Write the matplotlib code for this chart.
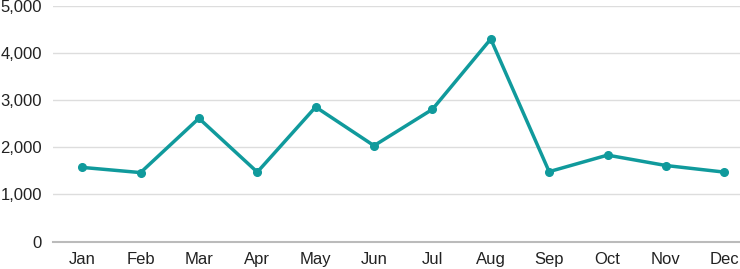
import matplotlib.pyplot as plt
from matplotlib.ticker import FuncFormatter

# Data
months = ['Jan', 'Feb', 'Mar', 'Apr', 'May', 'Jun',
          'Jul', 'Aug', 'Sep', 'Oct', 'Nov', 'Dec']
values = [1570, 1460, 2610, 1470, 2850, 2030,
          2800, 4290, 1480, 1830, 1610, 1470]
y_ticks = [0, 1000, 2000, 3000, 4000, 5000]

plt.rcParams['font.family'] = ['Liberation Sans', 'DejaVu Sans']

fig = plt.figure(figsize=(7.4, 2.69), dpi=100)
ax = fig.add_axes([53 / 740, 27.5 / 269, 687 / 740, 236 / 269])

x = list(range(len(months)))
ax.plot(x, values, color='#109a9c', linewidth=2.5, marker='o',
        markersize=5.5, solid_joinstyle='round', zorder=3, clip_on=False)

ax.set_xlim(-0.5, 11.27)
ax.set_ylim(0, 5000)
ax.set_xticks(x)
ax.set_xticklabels(months)
ax.set_yticks(y_ticks)
ax.yaxis.set_major_formatter(FuncFormatter(lambda v, p: f'{int(v):,}'))

ax.grid(axis='y', color='#dddddd', linewidth=1)
ax.set_axisbelow(True)
for s in ['top', 'right', 'left']:
    ax.spines[s].set_visible(False)
ax.spines['bottom'].set_color('#bbbbbb')
ax.spines['bottom'].set_linewidth(1.5)
ax.tick_params(axis='both', length=0, labelsize=12, colors='#222222')
ax.tick_params(axis='x', pad=7.5)
ax.tick_params(axis='y', pad=8)

fig.savefig('out.png', dpi=100)
